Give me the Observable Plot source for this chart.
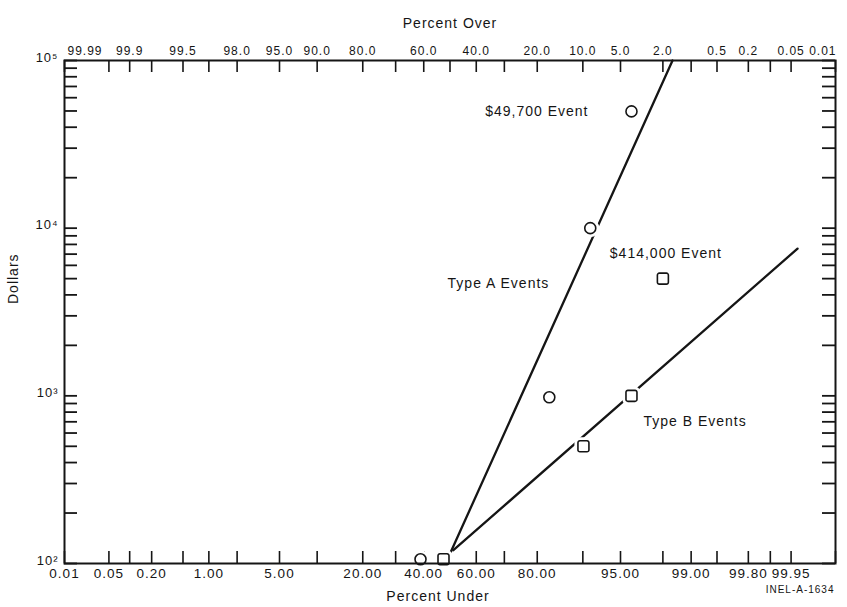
<!DOCTYPE html>
<html>
<head>
<meta charset="utf-8">
<script src="https://cdn.jsdelivr.net/npm/d3@7"></script>
<script src="https://cdn.jsdelivr.net/npm/@observablehq/plot@0.6"></script>
<style>
  html, body { margin: 0; padding: 0; background: #fff; }
  #chart svg { display: block; }
</style>
</head>
<body>
<div id="chart"></div>
<script>
// Type A events (circles): cumulative percent under and dollar loss
const typeAUnder = [38.8, 83.1, 91.2, 96.0];
const typeAValue = [106, 980, 10000, 49700];

// Type B events (squares)
const typeBUnder = [47.5, 90.1, 96.0, 98.0];
const typeBValue = [106, 500, 1000, 5000];

// Fitted lines, given by their two end points
const typeAFitUnder = [48.3, 98.41];
const typeAFitValue = [100, 100000];
const typeBFitUnder = [51.3, 99.96];
const typeBFitValue = [120, 7550];

// Annotations: text and the data point they sit against
const noteText = ["$49,700 Event", "$414,000 Event", "Type A Events", "Type B Events"];
const noteUnder = [96.0, 98.0, 83.1, 96.9];
const noteValue = [49700, 5000, 4700, 700];

// Probability-paper ticks
const tickUnder = [0.01, 0.05, 0.1, 0.2, 0.5, 1, 2, 5, 10, 20, 30, 40, 50, 60, 70, 80, 90, 95, 98, 99, 99.5, 99.8, 99.9, 99.95, 99.99];
const underLabels = ["0.01", "0.05", "0.20", "1.00", "5.00", "20.00", "40.00", "60.00", "80.00", "95.00", "99.00", "99.80", "99.95"];
const overLabels = ["99.99", "99.9", "99.5", "98.0", "95.0", "90.0", "80.0", "60.0", "40.0", "20.0", "10.0", "5.0", "2.0", "0.5", "0.2", "0.05", "0.01"];
const decadeValues = [100, 1000, 10000, 100000];
const decadeLabels = ["10\u00B2", "10\u00B3", "10\u2074", "10\u2075"];

// Inverse standard normal CDF (Acklam's rational approximation)
function probit(p) {
  const a = [-3.969683028665376e+01, 2.209460984245205e+02, -2.759285104469687e+02, 1.383577518672690e+02, -3.066479806614716e+01, 2.506628277459239e+00];
  const b = [-5.447609879822406e+01, 1.615858368580409e+02, -1.556989798598866e+02, 6.680131188771972e+01, -1.328068155288572e+01];
  const c = [-7.784894002430293e-03, -3.223964580411365e-01, -2.400758277161838e+00, -2.549732539343734e+00, 4.374664141464968e+00, 2.938163982698783e+00];
  const d = [7.784695709041462e-03, 3.224671290700398e-01, 2.445134137142996e+00, 3.754408661907416e+00];
  const pl = 0.02425, ph = 1 - pl;
  let q, r;
  if (p < pl) {
    q = Math.sqrt(-2 * Math.log(p));
    return (((((c[0]*q+c[1])*q+c[2])*q+c[3])*q+c[4])*q+c[5]) / ((((d[0]*q+d[1])*q+d[2])*q+d[3])*q+1);
  }
  if (p > ph) {
    q = Math.sqrt(-2 * Math.log(1 - p));
    return -(((((c[0]*q+c[1])*q+c[2])*q+c[3])*q+c[4])*q+c[5]) / ((((d[0]*q+d[1])*q+d[2])*q+d[3])*q+1);
  }
  q = p - 0.5; r = q * q;
  return (((((a[0]*r+a[1])*r+a[2])*r+a[3])*r+a[4])*r+a[5])*q / (((((b[0]*r+b[1])*r+b[2])*r+b[3])*r+b[4])*r+1);
}
// percent under -> normal score
const Z = (u) => probit(u / 100);

const pairs = (us, vs) => us.map((u, i) => ({under: u, value: vs[i]}));
const typeA = pairs(typeAUnder, typeAValue);
const typeB = pairs(typeBUnder, typeBValue);
const fitA = pairs(typeAFitUnder, typeAFitValue);
const fitB = pairs(typeBFitUnder, typeBFitValue);
const notes = noteText.map((t, i) => ({text: t, under: noteUnder[i], value: noteValue[i]}));

// minor log ticks 2..9 within each decade
const yTicks = decadeValues.slice(0, -1).flatMap(k => d3.range(1, 10).map(m => k * m)).concat([100000]);

// rounded square symbol for Type B markers
const roundSquare = {
  draw(context, size) {
    const h = Math.sqrt(size) / 2, r = h * 0.35;
    context.moveTo(-h + r, -h);
    context.arcTo(h, -h, h, h, r);
    context.arcTo(h, h, -h, h, r);
    context.arcTo(-h, h, -h, -h, r);
    context.arcTo(-h, -h, h, -h, r);
    context.closePath();
  }
};

const W = 847, H = 607;
const mt = 60, mb = 44, ml = 64, mr = 12;
const innerW = W - ml - mr, innerH = H - mt - mb;
const ink = "#151515";
const tickLen = 12;
const overX = s => Z(100 - +s);
const last = overLabels.length - 1;
const overSize = 12;

const chart = Plot.plot({
  width: W,
  height: H,
  marginTop: mt,
  marginBottom: mb,
  marginLeft: ml,
  marginRight: mr,
  style: {
    fontFamily: "'Liberation Sans', Arial, Helvetica, sans-serif",
    fontSize: "14px",
    letterSpacing: "1px",
    background: "#fff",
    color: ink
  },
  x: {type: "linear", domain: [Z(0.01), Z(99.99)], axis: null},
  y: {type: "log", domain: [100, 100000], axis: null},
  marks: [
    // inward ticks on all four sides
    Plot.ruleX(tickUnder, {x: Z, insetTop: innerH - tickLen, stroke: ink, strokeWidth: 1.6}),
    Plot.ruleX(tickUnder, {x: Z, insetBottom: innerH - tickLen, stroke: ink, strokeWidth: 1.6}),
    Plot.ruleY(yTicks, {y: d => d, insetRight: innerW - 13, stroke: ink, strokeWidth: 1.8}),
    Plot.ruleY(yTicks, {y: d => d, insetLeft: innerW - 13, stroke: ink, strokeWidth: 1.8}),

    // fitted lines
    Plot.line(fitA, {x: d => Z(d.under), y: "value", stroke: ink, strokeWidth: 2.3}),
    Plot.line(fitB, {x: d => Z(d.under), y: "value", stroke: ink, strokeWidth: 2.3}),

    // white halo breaks the lines around the markers
    Plot.dot(typeA, {x: d => Z(d.under), y: "value", r: 5.5, fill: "#fff", stroke: "#fff", strokeWidth: 7}),
    Plot.dot(typeB, {x: d => Z(d.under), y: "value", r: 6.2, symbol: roundSquare, fill: "#fff", stroke: "#fff", strokeWidth: 7}),

    Plot.frame({stroke: ink, strokeWidth: 2}),

    // markers
    Plot.dot(typeA, {x: d => Z(d.under), y: "value", r: 5.5, fill: "none", stroke: ink, strokeWidth: 1.6}),
    Plot.dot(typeB, {x: d => Z(d.under), y: "value", r: 6.2, symbol: roundSquare, fill: "none", stroke: ink, strokeWidth: 1.6}),

    // annotations
    Plot.text(notes.slice(0, 1), {x: d => Z(d.under), y: "value", text: "text", textAnchor: "end", dx: -43, fill: ink}),
    Plot.text(notes.slice(1, 2), {x: d => Z(d.under), y: "value", text: "text", textAnchor: "middle", dy: -25, dx: 3, fill: ink}),
    Plot.text(notes.slice(2, 3), {x: d => Z(d.under), y: "value", text: "text", textAnchor: "end", fill: ink}),
    Plot.text(notes.slice(3, 4), {x: d => Z(d.under), y: "value", text: "text", textAnchor: "start", fill: ink}),

    // bottom tick labels (percent under)
    Plot.text(underLabels, {x: s => Z(+s), text: s => s, frameAnchor: "bottom", lineAnchor: "top", dy: 5, fontSize: 13.5, fill: ink}),
    // top tick labels (percent over); the end labels are kept inside the frame width
    Plot.text(overLabels.slice(0, 1), {x: overX, text: s => s, frameAnchor: "top", textAnchor: "start", dy: -14, dx: 3, fontSize: overSize, fill: ink}),
    Plot.text(overLabels.slice(1, last), {x: overX, text: s => s, frameAnchor: "top", dy: -14, fontSize: overSize, fill: ink}),
    Plot.text(overLabels.slice(last), {x: overX, text: s => s, frameAnchor: "top", textAnchor: "end", dy: -14, dx: 1, fontSize: overSize, fill: ink}),
    // decade labels
    Plot.text(decadeValues, {y: d => d, text: (d, i) => decadeLabels[i], frameAnchor: "left", textAnchor: "end", dx: -6, dy: -3, fontSize: 13, fill: ink}),

    // axis titles
    Plot.text(["Percent Over"], {text: d => d, frameAnchor: "top", dy: -42, fill: ink}),
    Plot.text(["Percent Under"], {text: d => d, frameAnchor: "bottom", dy: 37, dx: -12, fill: ink}),
    Plot.text(["Dollars"], {text: d => d, frameAnchor: "left", dx: -51, dy: -8, rotate: -90, fill: ink}),
    Plot.text(["INEL-A-1634"], {text: d => d, frameAnchor: "bottom-right", textAnchor: "end", dy: 29, dx: -1, fontSize: 10, fill: ink})
  ]
});

document.getElementById("chart").appendChild(chart);
</script>
</body>
</html>
